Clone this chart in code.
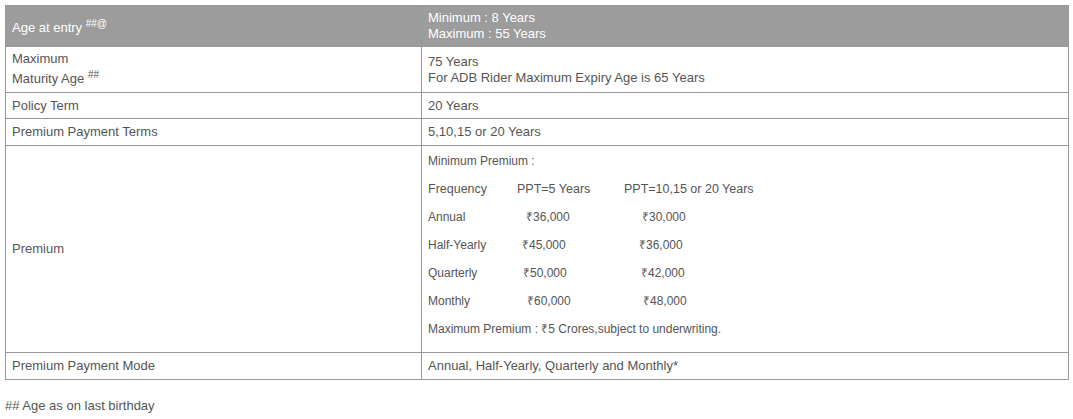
<!DOCTYPE html>
<html><head><meta charset="utf-8">
<script src="https://cdn.jsdelivr.net/npm/chart.js@4"></script>
<style>
body{margin:0;background:#fff;font-family:"Liberation Sans",Arial,sans-serif;color:#555;font-size:13px;}
table{position:absolute;left:5px;top:5px;width:1064px;border-collapse:collapse;}
td{border:1px solid #999;padding:0 6px;vertical-align:middle;line-height:16px;}
td.l{width:403px;}
tr.h td{background:#9c9c9c;color:#fff;height:40px;font-size:13px;}
sup{font-size:10px;}
.prem{position:relative;height:205px;font-size:12px;}
.prem div{position:absolute;white-space:nowrap;}
#foot{position:absolute;left:5px;top:398px;font-size:13px;}
</style></head><body>
<table id="t"></table>
<div id="foot">## Age as on last birthday</div>
<script>
const labels=["Age at entry <sup>##@</sup>","Maximum<br>Maturity Age <sup>##</sup>","Policy Term","Premium Payment Terms","Premium","Premium Payment Mode"];
const values=["Minimum : 8 Years<br>Maximum : 55 Years","75 Years<br>For ADB Rider Maximum Expiry Age is 65 Years","20 Years","5,10,15 or 20 Years",null,"Annual, Half-Yearly, Quarterly and Monthly*"];
const rowHeights=[40,46,26,27,207,27];
const frequencies=["Annual","Half-Yearly","Quarterly","Monthly"];
const ppt5=["₹36,000","₹45,000","₹50,000","₹60,000"];
const ppt10=["₹30,000","₹36,000","₹42,000","₹48,000"];
const ppt5X=[98,94,95,99];
const ppt10X=[214,211,213,215];
const t=document.getElementById('t');
labels.forEach((lab,i)=>{
  const tr=document.createElement('tr'); if(i===0) tr.className='h';
  let right=values[i];
  if(right===null){
    let h='<div class="prem"><div style="left:0;top:6px">Minimum Premium :</div>';
    h+='<div style="left:0;top:34px;font-size:12.5px">Frequency</div><div style="left:89px;top:34px;font-size:12.5px">PPT=5 Years</div><div style="left:196px;top:34px;font-size:12.5px">PPT=10,15 or 20 Years</div>';
    frequencies.forEach((f,j)=>{const y=62+28*j;
      h+=`<div style="left:0;top:${y}px">${f}</div><div style="left:${ppt5X[j]}px;top:${y}px">${ppt5[j]}</div><div style="left:${ppt10X[j]}px;top:${y}px">${ppt10[j]}</div>`;});
    h+='<div style="left:0;top:174px">Maximum Premium : ₹5 Crores,subject to underwriting.</div></div>';
    right=h;
  }
  tr.innerHTML=`<td class="l" style="height:${rowHeights[i]-1}px">${lab}</td><td>${right}</td>`;
  t.appendChild(tr);
});
</script>
</body></html>
